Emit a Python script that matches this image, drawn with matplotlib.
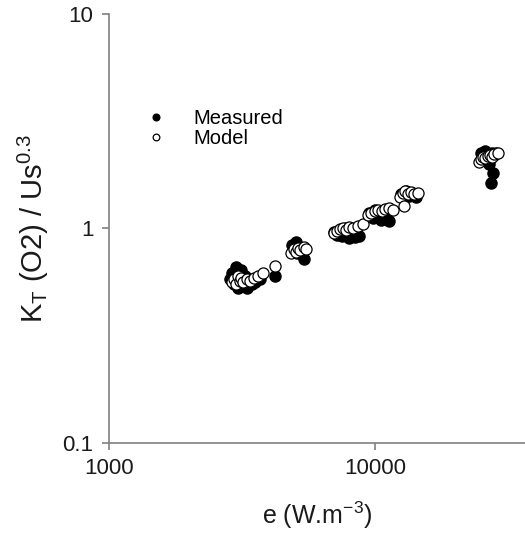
import numpy as np
import matplotlib.pyplot as plt

plt.rcParams['font.family'] = ['Liberation Sans', 'DejaVu Sans']
plt.rcParams['mathtext.fontset'] = 'custom'
plt.rcParams['mathtext.rm'] = 'Liberation Sans'
plt.rcParams['mathtext.it'] = 'Liberation Sans'

# measured points (e in W.m-3, KT/Us^0.3)
measured_e = [2850, 2900, 2950, 3000, 3000, 3050, 3100, 3150, 3200, 3250, 3300, 3350, 3450, 3550, 3700, 4200,
              4900, 5000, 5050, 5100, 5200, 5300, 5400,
              7000, 7200, 7400, 7500, 7700, 7800, 8000, 8200, 8400, 8700,
              9500, 9800, 10000, 10200, 10500, 10700, 11000, 11300,
              12500, 12800, 13100, 13400, 13800, 14200,
              25000, 25500, 26000, 26500, 27000, 27500, 28000, 27800, 27200, 26800, 28500, 26500]
measured_kt = [0.58, 0.62, 0.55, 0.66, 0.60, 0.53, 0.57, 0.64, 0.55, 0.60, 0.53, 0.57, 0.55, 0.56, 0.58, 0.60,
               0.84, 0.80, 0.86, 0.77, 0.82, 0.79, 0.72,
               0.96, 0.93, 0.98, 0.92, 0.95, 1.00, 0.90, 0.93, 0.91, 0.92,
               1.18, 1.12, 1.22, 1.15, 1.10, 1.20, 1.14, 1.08,
               1.45, 1.38, 1.50, 1.42, 1.47, 1.40,
               2.25, 2.15, 2.30, 2.20, 2.10, 2.25, 2.20, 1.82, 1.62, 2.00, 2.25, 2.05]

# model points
model_e = [2900, 2950, 3000, 3050, 3100, 3150, 3200, 3300, 3400, 3500, 3650, 3800, 4200,
           4850, 4950, 5050, 5150, 5250, 5400, 5500,
           7000, 7200, 7400, 7600, 7800, 8000, 8300, 8600, 9000,
           9400, 9700, 10000, 10300, 10600, 10900, 11300, 11700,
           12400, 12700, 13000, 13300, 13600, 14000, 14500, 12900,
           24500, 25000, 25500, 26000, 26500, 27000, 27500, 28000, 29000]
model_kt = [0.56, 0.58, 0.55, 0.60, 0.57, 0.59, 0.56, 0.58, 0.57, 0.59, 0.60, 0.62, 0.67,
            0.77, 0.80, 0.78, 0.81, 0.79, 0.82, 0.80,
            0.95, 0.97, 0.99, 1.00, 0.98, 1.02, 1.00, 1.03, 1.05,
            1.15, 1.18, 1.20, 1.22, 1.21, 1.23, 1.25, 1.22,
            1.40, 1.46, 1.50, 1.44, 1.48, 1.45, 1.47, 1.27,
            2.05, 2.10, 2.15, 2.12, 2.18, 2.20, 2.15, 2.22, 2.25]

xticks = [1000, 10000]
yticks = [0.1, 1, 10]

fig = plt.figure(figsize=(5.25, 5.35), dpi=100)
ax = fig.add_axes([0.207, 0.172, 0.793, 0.802])

ax.plot(measured_e, measured_kt, 'o', color='black', markersize=8, label='Measured')
ax.plot(model_e, model_kt, 'o', markerfacecolor='white', markeredgecolor='black',
        markeredgewidth=0.9, markersize=8, label='Model')

ax.set_xscale('log')
ax.set_yscale('log')
ax.set_xlim(1000, 36600)
ax.set_ylim(0.1, 10)
ax.set_xticks(xticks)
ax.set_xticklabels(['1000', '10000'])
ax.set_yticks(yticks)
ax.set_yticklabels(['0.1', '1', '10'])
ax.minorticks_off()

for s in ['top', 'right']:
    ax.spines[s].set_visible(False)
for s in ['left', 'bottom']:
    ax.spines[s].set_color('#808080')
    ax.spines[s].set_linewidth(1.2)
ax.tick_params(direction='out', length=5, width=1.2, color='#808080',
               labelsize=16, labelcolor='#1a1a1a', pad=6)

ax.set_xlabel(r'e (W.m$^{-3}$)', fontsize=18, color='#1a1a1a', labelpad=15)
ax.set_ylabel(r'K$_{\mathrm{T}}$ (O2) / Us$^{0.3}$', fontsize=21, color='#1a1a1a', labelpad=8)

ax.legend(loc='upper left', bbox_to_anchor=(0.04, 0.82), frameon=False, fontsize=14.5,
          markerscale=0.6, handlelength=1.2, handletextpad=1.3, labelspacing=0.05)

fig.savefig('out.png', dpi=100)
